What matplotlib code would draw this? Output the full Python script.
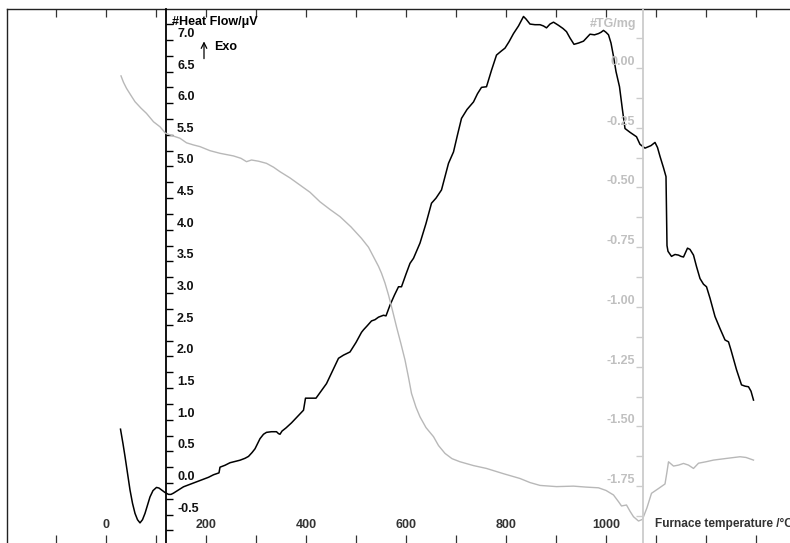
import matplotlib
matplotlib.use("Agg")
import matplotlib.pyplot as plt
from matplotlib.ticker import FixedLocator, FuncFormatter

plt.rcParams['font.family'] = ['Liberation Sans', 'DejaVu Sans']
plt.rcParams['font.weight'] = 'bold'

# ---- data ----
hf_T = [29, 34, 38, 43, 48, 53, 58, 63, 68, 73, 78, 83, 88, 94, 101, 106, 111, 118, 125, 130,
        135, 145, 155, 165, 175, 185, 195, 205, 215, 226, 228, 238, 248, 258, 268, 278, 285, 292,
        298, 308, 315, 321, 331, 341, 345, 348, 352, 360, 371, 383, 395, 399, 410, 420, 430, 441,
        453, 465, 475, 488, 500, 511, 515, 522, 531, 538, 545, 555, 560, 568, 577, 585, 591, 600,
        608, 615, 622, 628, 640, 651, 660, 671, 685, 695, 703, 711, 722, 735, 743, 751, 761, 771,
        781, 790, 798, 806, 815, 825, 835, 840, 848, 858, 868, 875, 881, 888, 895, 905, 914, 921,
        928, 936, 945, 955, 962, 968, 977, 985, 990, 995, 1000, 1005, 1010, 1015, 1020, 1027,
        1033, 1038, 1048, 1061, 1068, 1078, 1090, 1098, 1103, 1108, 1115, 1120, 1121, 1122,
        1124, 1131, 1138, 1145, 1150, 1155, 1160, 1163, 1168, 1175, 1181, 1188, 1195, 1201,
        1208, 1218, 1228, 1238, 1245, 1250, 1261, 1271, 1278, 1285, 1290, 1295]
hf_V = [0.85, 0.62, 0.42, 0.15, -0.11, -0.32, -0.48, -0.58, -0.63, -0.58, -0.48, -0.35, -0.22,
        -0.12, -0.07, -0.08, -0.11, -0.15, -0.18, -0.18, -0.16, -0.11, -0.06, -0.03, 0.0, 0.03,
        0.06, 0.09, 0.13, 0.16, 0.25, 0.28, 0.32, 0.34, 0.36, 0.39, 0.42, 0.48, 0.54, 0.70, 0.77,
        0.80, 0.81, 0.81, 0.78, 0.77, 0.82, 0.87, 0.95, 1.05, 1.15, 1.34, 1.34, 1.34, 1.45, 1.57,
        1.77, 1.97, 2.02, 2.07, 2.22, 2.38, 2.42, 2.48, 2.56, 2.58, 2.62, 2.65, 2.64, 2.81, 2.97,
        3.10, 3.10, 3.30, 3.47, 3.55, 3.68, 3.79, 4.10, 4.42, 4.50, 4.63, 5.05, 5.23, 5.50, 5.76,
        5.90, 6.02, 6.15, 6.25, 6.26, 6.52, 6.76, 6.82, 6.87, 6.97, 7.10, 7.22, 7.37, 7.33, 7.25,
        7.24, 7.24, 7.22, 7.19, 7.25, 7.28, 7.23, 7.18, 7.13, 7.03, 6.93, 6.95, 6.98, 7.04, 7.09,
        7.08, 7.10, 7.12, 7.15, 7.12, 7.08, 6.95, 6.74, 6.50, 6.26, 5.89, 5.60, 5.54, 5.47, 5.35,
        5.29, 5.33, 5.38, 5.30, 5.16, 4.98, 4.84, 4.30, 3.75, 3.66, 3.58, 3.61, 3.60, 3.58, 3.57,
        3.66, 3.71, 3.69, 3.60, 3.42, 3.23, 3.14, 3.10, 2.92, 2.63, 2.44, 2.26, 2.23, 2.10, 1.79,
        1.55, 1.53, 1.52, 1.45, 1.31]

tg_T = [30, 35, 41, 50, 58, 70, 81, 95, 108, 119, 135, 148, 161, 175, 188, 208, 228, 255, 270,
        281, 291, 305, 321, 335, 348, 368, 388, 408, 428, 448, 468, 490, 511, 525, 535, 545, 551,
        558, 565, 573, 581, 590, 598, 605, 611, 620, 628, 640, 655, 665, 678, 692, 708, 735, 761,
        795, 828, 848, 868, 901, 935, 960, 985, 1000, 1015, 1025, 1031, 1041, 1048, 1055, 1065,
        1073, 1082, 1091, 1105, 1118, 1122, 1125, 1135, 1145, 1155, 1165, 1175, 1185, 1200, 1215,
        1241, 1268, 1280, 1295]
tg_M = [-0.033, -0.060, -0.085, -0.115, -0.141, -0.168, -0.190, -0.225, -0.246, -0.273, -0.285,
        -0.294, -0.313, -0.322, -0.329, -0.346, -0.357, -0.368, -0.378, -0.392, -0.385, -0.390,
        -0.399, -0.415, -0.434, -0.460, -0.490, -0.520, -0.560, -0.592, -0.622, -0.665, -0.713,
        -0.750, -0.790, -0.830, -0.859, -0.900, -0.950, -1.015, -1.083, -1.155, -1.222, -1.295,
        -1.362, -1.420, -1.460, -1.505, -1.543, -1.580, -1.613, -1.635, -1.648, -1.664, -1.676,
        -1.698, -1.718, -1.735, -1.747, -1.752, -1.750, -1.754, -1.757, -1.768, -1.787, -1.815,
        -1.833, -1.829, -1.855, -1.878, -1.896, -1.889, -1.840, -1.780, -1.760, -1.741, -1.690,
        -1.648, -1.666, -1.662, -1.655, -1.662, -1.676, -1.654, -1.648, -1.641, -1.634, -1.627,
        -1.630, -1.641]

x_major = [0, 200, 400, 600, 800, 1000]
x_minor = list(range(-100, 1400, 100))
hf_major = [-0.5, 0.0, 0.5, 1.0, 1.5, 2.0, 2.5, 3.0, 3.5, 4.0, 4.5, 5.0, 5.5, 6.0, 6.5, 7.0]
hf_minor = [-0.75 + 0.25 * i for i in range(33)]
tg_major = [0.0, -0.25, -0.5, -0.75, -1.0, -1.25, -1.5, -1.75]
tg_minor = [0.125 - 0.125 * i for i in range(17)]

W, H = 790, 543
fig = plt.figure(figsize=(W / 100, H / 100), dpi=100)
ax = fig.add_axes([7 / W, 0, 1 - 7 / W, (H - 9) / H])
ax.set_xlim(-198, 1368)
ax.set_ylim(-0.948, 7.488)

for s in ['right', 'bottom']:
    ax.spines[s].set_visible(False)
for s in ['left', 'top']:
    ax.spines[s].set_linewidth(1.0)
    ax.spines[s].set_color('#222222')

ax.xaxis.set_major_locator(FixedLocator(x_major))
ax.xaxis.set_minor_locator(FixedLocator(x_minor))
ax.xaxis.set_major_formatter(FuncFormatter(lambda v, p: f"{v:.0f}"))
ax.tick_params(axis='x', which='both', direction='in', top=True, bottom=True,
               length=5.5, width=0.9, color='#333333')
ax.tick_params(axis='x', which='major', pad=-17, labelsize=9, labelcolor='#333333')
ax.set_yticks([])

ax.plot(hf_T, hf_V, color='black', lw=1.1, zorder=3)

# Heat flow axis (black spine at 120 °C)
hf = ax.twinx()
hf.set_ylim(ax.get_ylim())
for s in ['left', 'top', 'bottom']:
    hf.spines[s].set_visible(False)
hf.spines['right'].set_position(('data', 120))
hf.spines['right'].set_linewidth(1.3)
hf.spines['right'].set_color('black')
hf.yaxis.set_major_locator(FixedLocator(hf_major))
hf.yaxis.set_minor_locator(FixedLocator(hf_minor))
hf.yaxis.set_major_formatter(FuncFormatter(lambda v, p: f"{v:.1f}"))
hf.tick_params(axis='y', which='both', direction='out', length=5, width=1.0, color='black')
hf.tick_params(axis='y', which='major', pad=3, labelsize=9, labelcolor='#111111')
for t in hf.get_yticklabels():
    t.set_va('bottom')

# TG axis (grey spine at ~1074 °C)
tg = ax.twinx()
tg.set_ylim(-1.988, 0.247)
for s in ['right', 'top', 'bottom']:
    tg.spines[s].set_visible(False)
tg.spines['left'].set_visible(True)
tg.spines['left'].set_position(('data', 1074))
tg.spines['left'].set_linewidth(1.3)
tg.spines['left'].set_color('#cccccc')
tg.yaxis.tick_left()
tg.yaxis.set_major_locator(FixedLocator(tg_major))
tg.yaxis.set_minor_locator(FixedLocator(tg_minor))
tg.yaxis.set_major_formatter(FuncFormatter(lambda v, p: f"{v:.2f}"))
tg.tick_params(axis='y', which='both', direction='out', length=5, width=1.0, color='#cccccc')
tg.tick_params(axis='y', which='major', pad=1, labelsize=9, labelcolor='#c0c0c0')
for t in tg.get_yticklabels():
    t.set_va('bottom')
tg.plot(tg_T, tg_M, color='#b8b8b8', lw=1.0, zorder=2)

# texts
ax.text(132, 7.28, "#Heat Flow/μV", fontsize=9, fontweight='bold', color='black',
        ha='left', va='center', zorder=5)
ax.annotate("", xy=(196, 7.02), xytext=(196, 6.66),
            arrowprops=dict(arrowstyle='->', color='black', lw=0.9, mutation_scale=10))
ax.text(216, 6.88, "Exo", fontsize=9, fontweight='bold', color='black', ha='left', va='center')
tg.text(1060, 0.185, "#TG/mg", fontsize=9, fontweight='bold', color='#c0c0c0',
        ha='right', va='center')
ax.text(1098, 0.0356, "Furnace temperature /°C", transform=ax.get_xaxis_transform(),
        fontsize=8.6, fontweight='bold', color='#333333', ha='left', va='center')

fig.savefig("out.png", dpi=100)
